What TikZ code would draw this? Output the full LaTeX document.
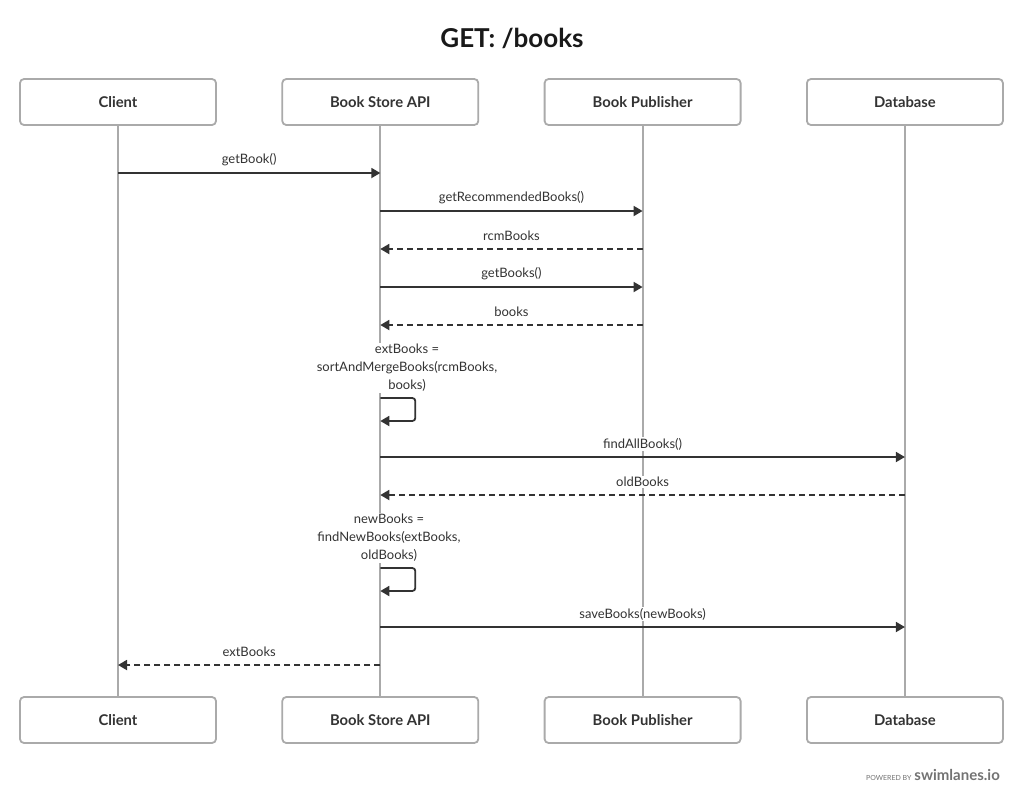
\documentclass[tikz,border=0pt]{standalone}
\usepackage{fontspec}
\setmainfont{Lato}
\usepackage{xcolor}
\usepackage{tikz}
\usetikzlibrary{arrows.meta, positioning}
\definecolor{lanegray}{HTML}{AAAAAA}
\definecolor{inkgray}{HTML}{333333}
\tikzstyle{lane} = [rectangle, rounded corners=4pt,
minimum width=196pt,
minimum height=46pt,
text centered,
draw=lanegray, line width=1.8pt,
fill=white, text=inkgray,
font=\bfseries\fontsize{14.8}{16}\selectfont]
\tikzstyle{lifeline} = [draw=lanegray, line width=1.8pt]
\tikzstyle{call} = [draw=inkgray, line width=1.8pt,
-{Triangle[length=9pt,width=10pt]}]
\tikzstyle{reply} = [call, dash pattern=on 6pt off 4pt]
\tikzstyle{msg} = [fill=white, inner sep=1pt, text=inkgray,
align=center,
font=\fontsize{13}{18}\selectfont]

\begin{document}
\begin{tikzpicture}[x=1pt, y=-1pt, node distance=262.3pt]

\fill [white] (0,0) rectangle (1024,804);
\useasboundingbox (0,0) rectangle (1024,804);

\node (title) [text=black!90, font=\bfseries\fontsize{26}{30}\selectfont] at (512,38) {GET: /books};

% participants, top row
\node (client) [lane] at (118,102) {Client};
\node (api) [lane, right of=client] {Book Store API};
\node (publisher) [lane, right of=api] {Book Publisher};
\node (database) [lane, right of=publisher] {Database};

% participants, bottom row
\node (client_end) [lane, below of=client, node distance=618pt] {Client};
\node (api_end) [lane, below of=api, node distance=618pt] {Book Store API};
\node (publisher_end) [lane, below of=publisher, node distance=618pt] {Book Publisher};
\node (database_end) [lane, below of=database, node distance=618pt] {Database};

\draw [lifeline] (client) -- (client_end);
\draw [lifeline] (api) -- (api_end);
\draw [lifeline] (publisher) -- (publisher_end);
\draw [lifeline] (database) -- (database_end);

% message rows
\coordinate (m1) at (0,173);
\coordinate (m2) at (0,211);
\coordinate (m3) at (0,249);
\coordinate (m4) at (0,287);
\coordinate (m5) at (0,325);
\coordinate (s1) at (0,398);
\coordinate (s1_back) at (0,421);
\coordinate (m7) at (0,457);
\coordinate (m8) at (0,495);
\coordinate (s2) at (0,568);
\coordinate (s2_back) at (0,591);
\coordinate (m10) at (0,627);
\coordinate (m11) at (0,665);

\draw [call] (client |- m1) -- node[msg, yshift=13pt] {getBook()} (api |- m1);
\draw [call] (api |- m2) -- node[msg, yshift=13pt] {getRecommendedBooks()} (publisher |- m2);
\draw [reply] (publisher |- m3) -- node[msg, yshift=13pt] {rcmBooks} (api |- m3);
\draw [call] (api |- m4) -- node[msg, yshift=13pt] {getBooks()} (publisher |- m4);
\draw [reply] (publisher |- m5) -- node[msg, yshift=13pt] {books} (api |- m5);

\node (sort_note) [msg] at (407,368) {extBooks =\\sortAndMergeBooks(rcmBooks,\\books)};
\draw [call, rounded corners=3pt] (api |- s1) -- ++(35,0) |- (api |- s1_back);

\draw [call] (api |- m7) -- node[msg, yshift=13pt] {findAllBooks()} (database |- m7);
\draw [reply] (database |- m8) -- node[msg, yshift=13pt] {oldBooks} (api |- m8);

\node (find_note) [msg] at (389,538) {newBooks =\\findNewBooks(extBooks,\\oldBooks)};
\draw [call, rounded corners=3pt] (api |- s2) -- ++(35,0) |- (api |- s2_back);

\draw [call] (api |- m10) -- node[msg, yshift=13pt] {saveBooks(newBooks)} (database |- m10);
\draw [reply] (api |- m11) -- node[msg, yshift=13pt] {extBooks} (client |- m11);

\node (footer) [anchor=base east, text=black!55, inner sep=0pt] at (1000,780)
{\fontsize{7}{8}\selectfont POWERED BY\hspace{3pt}\fontsize{15}{16}\selectfont\bfseries swimlanes.io};

\end{tikzpicture}
\end{document}
